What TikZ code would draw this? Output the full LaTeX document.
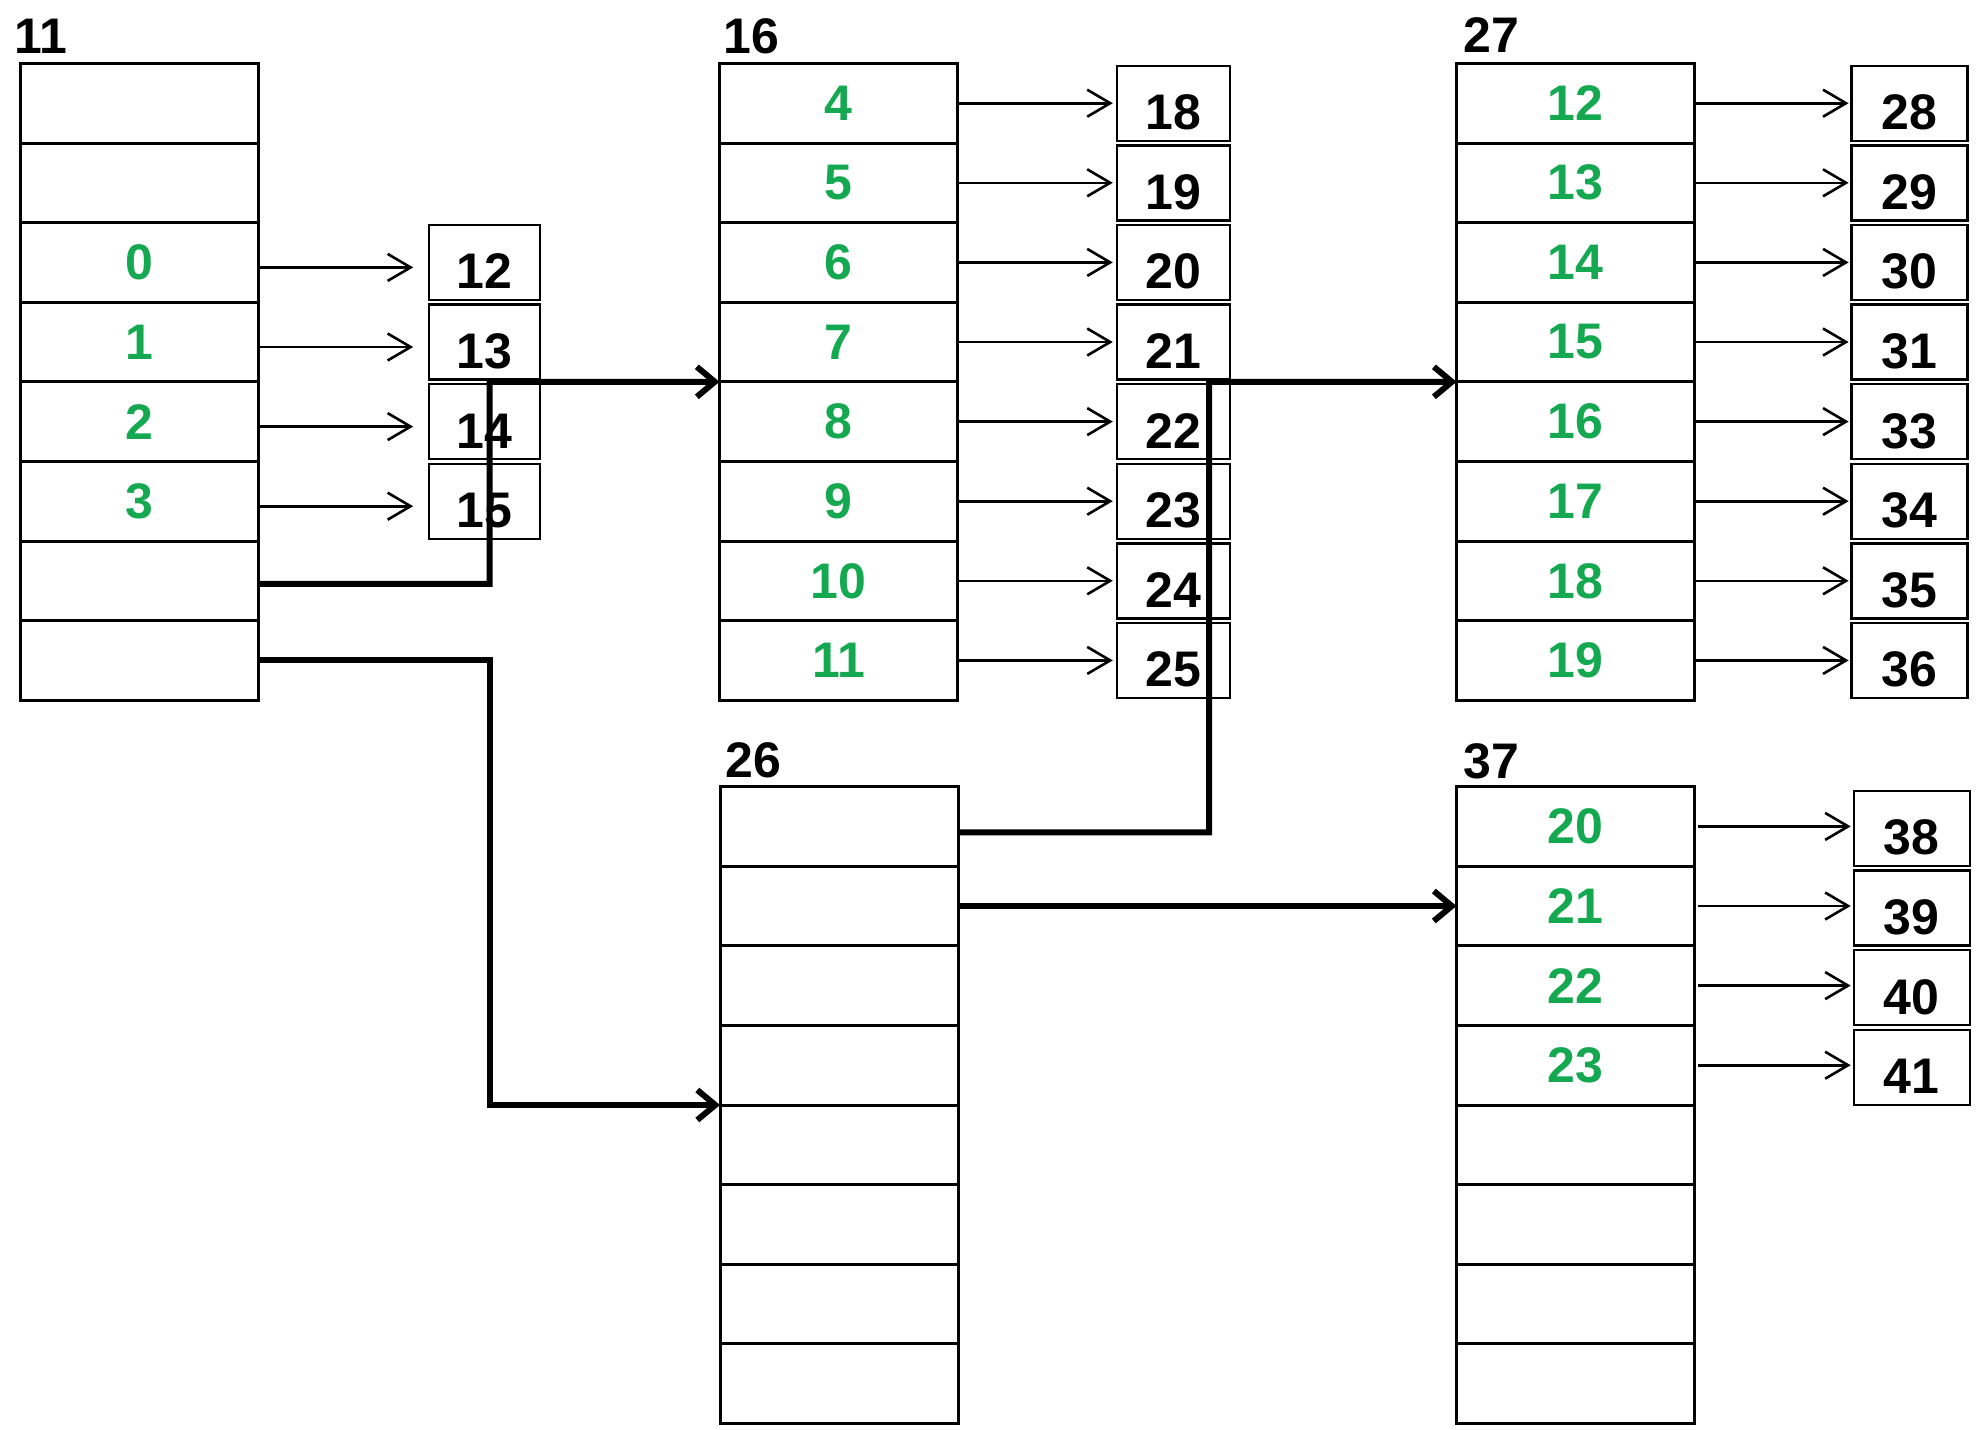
\documentclass[tikz,border=0pt]{standalone}
\usepackage{fontspec}
\setmainfont{Liberation Sans}
\usetikzlibrary{arrows.meta,calc}
\definecolor{tgreen}{RGB}{20,168,80}
\begin{document}
\begin{tikzpicture}[x=0.5pt,y=-0.5pt,
  cell/.style={draw, line width=1.5pt, minimum width=119pt, minimum height=39.8pt,
    inner sep=0pt, outer sep=0pt, text=tgreen, font=\bfseries\fontsize{25}{25}\selectfont},
  small/.style={draw, line width=1.2pt, minimum height=37.5pt, inner sep=0pt, outer sep=0pt,
    text height=26.5pt, text depth=0pt, font=\bfseries\fontsize{25}{25}\selectfont},
  ttl/.style={anchor=base west, inner sep=0pt, font=\bfseries\fontsize{25}{25}\selectfont},
  ptr/.style={line width=1.3pt, -{Straight Barb[length=11.5pt,width=13.5pt]}},
  link/.style={line width=3pt, -{Straight Barb[length=9pt,width=15pt]}}]
\useasboundingbox (0,0) rectangle (1982,1430);

% table 11
\foreach \i/\t in {1/{},2/{},3/0,4/1,5/2,6/3,7/{},8/{}}
  \node[cell] (a\i) at (139.5, 23.6+79.6*\i) {\t};
% table 16
\foreach \i/\t in {1/4,2/5,3/6,4/7,5/8,6/9,7/10,8/11}
  \node[cell] (b\i) at (838.5, 23.6+79.6*\i) {\t};
% table 27
\foreach \i/\t in {1/12,2/13,3/14,4/15,5/16,6/17,7/18,8/19}
  \node[cell] (c\i) at (1575.6, 23.6+79.6*\i) {\t};
% table 26
\foreach \i/\t in {1/{},2/{},3/{},4/{},5/{},6/{},7/{},8/{}}
  \node[cell] (d\i) at (839, 746.8+79.6*\i) {\t};
% table 37
\foreach \i/\t in {1/20,2/21,3/22,4/23,5/{},6/{},7/{},8/{}}
  \node[cell] (e\i) at (1575.5, 746.8+79.6*\i) {\t};

% titles
\node[ttl] (l11) at (14,53) {11};
\node[ttl] (l16) at (723,53) {16};
\node[ttl] (l27) at (1463,52) {27};
\node[ttl] (l26) at (725,777) {26};
\node[ttl] (l37) at (1463,778) {37};

% small boxes
\foreach \r/\n in {3/12,4/13,5/14,6/15}
  \node[small, minimum width=55.5pt] (n\n) at (484.7, 23.6+79.6*\r) {\n};
\foreach \r/\n in {1/18,2/19,3/20,4/21,5/22,6/23,7/24,8/25}
  \node[small, minimum width=56.5pt] (n\n) at (1173.3, 23.6+79.6*\r) {\n};
\foreach \r/\n in {1/28,2/29,3/30,4/31,5/33,6/34,7/35,8/36}
  \node[small, minimum width=58pt] (n\n) at (1909.6, 23.6+79.6*\r) {\n};
\foreach \r/\n in {1/38,2/39,3/40,4/41}
  \node[small, minimum width=58pt] (n\n) at (1911.7, 748.8+79.6*\r) {\n};

% thin pointers
\foreach \r/\n in {3/12,4/13,5/14,6/15}
  \draw[ptr, shorten >=8pt] ([yshift=-2.5pt]a\r.east) -- ([yshift=-2.5pt]n\n.west);
\foreach \r/\n in {1/18,2/19,3/20,4/21,5/22,6/23,7/24,8/25}
  \draw[ptr, shorten >=2pt] (b\r.east) -- (n\n.west);
\foreach \r/\n in {1/28,2/29,3/30,4/31,5/33,6/34,7/35,8/36}
  \draw[ptr, shorten >=1.5pt] (c\r.east) -- (c\r.east -| n\n.west);
\foreach \r/\n in {1/38,2/39,3/40,4/41}
  \draw[ptr, shorten >=1.5pt] ([xshift=1.5pt]e\r.east) -- (e\r.east -| n\n.west);

% thick links
\coordinate (k1) at (489.5, 381.8);
\coordinate (k2) at (489.5, 1105);
\coordinate (k3) at (1209, 381.8);
\draw[link] ([yshift=-1.5pt]a7.east) -| (k1) -- (b4.south west);
\draw[link] (a8.east) -| (k2) -- (d5.north west);
\draw[link] ([yshift=-3pt]d1.east) -| (k3) -- (c4.south west);
\draw[link] (d2.east) -- (e2.west);
\end{tikzpicture}
\end{document}
